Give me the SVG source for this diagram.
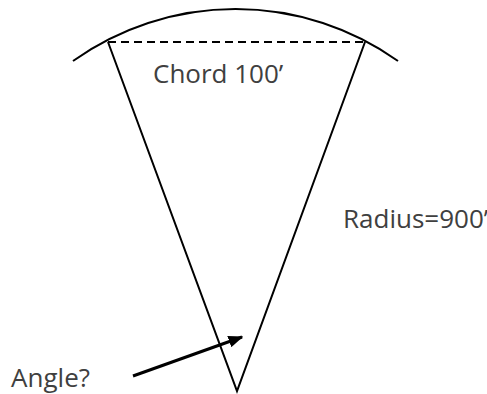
<svg xmlns="http://www.w3.org/2000/svg" width="487" height="394" viewBox="0 0 487 394">
<defs>
<style>
.ln{fill:none;stroke:#000;stroke-width:2}
.lbl{font-family:"Open Sans","Liberation Sans",sans-serif;font-size:26px;fill:#404040}
</style>
<marker id="ah" markerWidth="5" markerHeight="4" refX="4.5" refY="2" orient="auto" markerUnits="strokeWidth">
<path d="M0,0 L5,2 L0,4 Z" fill="#000"/>
</marker>
</defs>
<g id="arc"><path class="ln" d="M73,61 A280,280 0 0 1 398,61"/></g>
<g id="chord"><line class="ln" x1="108" y1="42" x2="365" y2="42" stroke-dasharray="8,5"/></g>
<g id="sector"><path class="ln" d="M108,42 L237,391 L365,42"/></g>
<g id="connectors"><line x1="133" y1="376" x2="242" y2="337" stroke="#000" stroke-width="3" marker-end="url(#ah)"/></g>
<g id="label-chord"><text class="lbl" x="153" y="83">Chord 100’</text></g>
<g id="label-radius"><text class="lbl" x="343" y="228">Radius=900’</text></g>
<g id="label-angle"><text class="lbl" x="90" y="387" text-anchor="end">Angle?</text></g>
</svg>
